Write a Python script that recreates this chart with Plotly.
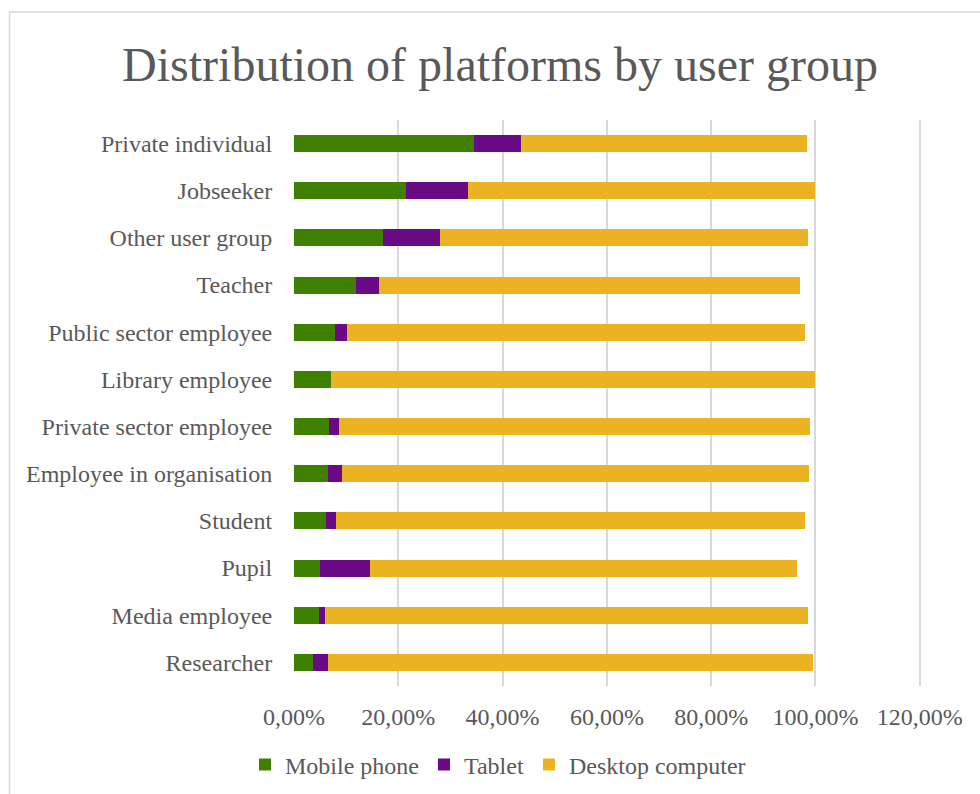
import plotly.graph_objects as go

# Share of sessions per platform (percent), by user group
groups = [
    "Private individual", "Jobseeker", "Other user group", "Teacher",
    "Public sector employee", "Library employee", "Private sector employee",
    "Employee in organisation", "Student", "Pupil", "Media employee", "Researcher",
]
mobile = [34.5, 21.4, 17.1, 11.8, 7.8, 7.0, 6.7, 6.6, 6.2, 5.0, 4.7, 3.7]
tablet = [9.1, 11.9, 10.9, 4.5, 2.4, 0.0, 2.0, 2.6, 1.8, 9.5, 1.3, 2.9]
desktop = [54.7, 66.7, 70.5, 80.8, 87.8, 93.0, 90.2, 89.5, 90.0, 82.0, 92.6, 93.0]

x_ticks = [0, 20, 40, 60, 80, 100, 120]
x_labels = [f"{v:.2f}".replace(".", ",") + "%" for v in x_ticks]

W, H = 980, 794
L, R, T, B = 294, 55, 120, 108
X_MAX = 121  # a little room past the last gridline so it is drawn
FONT = "Liberation Serif, Times New Roman, serif"
GREY = "#595959"

fig = go.Figure()
for name, vals, col in [
    ("Mobile phone", mobile, "#408000"),
    ("Tablet", tablet, "#6A0A86"),
    ("Desktop computer", desktop, "#EBB321"),
]:
    fig.add_trace(go.Bar(
        y=groups, x=vals, name=name, orientation="h",
        marker=dict(color=col, line=dict(width=0)),
    ))

# chart-area border (left and top edges visible, rest runs off the page)
pw, ph = W - L - R, H - T - B
def px_to_paper(x, y):
    return (x - L) / pw, (H - B - y) / ph

x0, y0 = px_to_paper(9.5, 12)
x1, y1 = px_to_paper(1000, 820)
fig.add_shape(type="rect", xref="paper", yref="paper",
              x0=x0, y0=y1, x1=x1, y1=y0,
              line=dict(color="#D9D9D9", width=1.5), layer="below")

fig.update_layout(
    width=W, height=H,
    margin=dict(l=L, r=R, t=T, b=B, autoexpand=False),
    barmode="stack",
    bargap=0.64,
    paper_bgcolor="white",
    plot_bgcolor="white",
    font=dict(family=FONT, color=GREY, size=24),
    title=dict(
        text="Distribution of platforms by user group",
        x=500 / W, xanchor="center", xref="container",
        y=1 - 64 / H, yanchor="middle", yref="container",
        font=dict(family=FONT, size=48, color=GREY),
    ),
    xaxis=dict(
        range=[0, X_MAX],
        tickvals=x_ticks,
        ticktext=x_labels,
        showgrid=True, gridcolor="#D9D9D9", gridwidth=2,
        zeroline=False, showline=False,
        ticks="outside", ticklen=9, tickcolor="rgba(0,0,0,0)",
        tickfont=dict(family=FONT, size=24, color=GREY),
    ),
    yaxis=dict(
        categoryorder="array",
        categoryarray=groups[::-1],
        showgrid=False, zeroline=False, showline=False,
        ticks="outside", ticklen=16, tickcolor="rgba(0,0,0,0)",
        tickfont=dict(family=FONT, size=24, color=GREY),
    ),
    legend=dict(
        orientation="h",
        x=(498 - L) / pw, xanchor="center",
        y=(H - B - 765) / ph, yanchor="middle",
        font=dict(family=FONT, size=24, color=GREY),
        traceorder="normal",
    ),
    showlegend=True,
)

fig.write_html("out.html")
